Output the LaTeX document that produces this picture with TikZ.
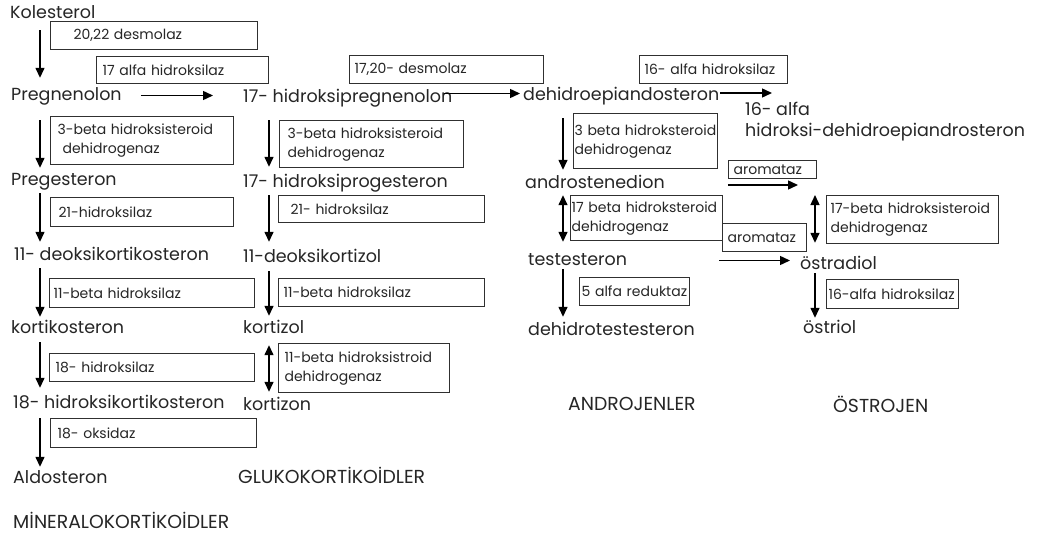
\documentclass[tikz,border=0pt]{standalone}
\usepackage{fontspec}
\setmainfont{Poppins}
\usetikzlibrary{arrows.meta}
\definecolor{ink}{HTML}{262626}
\definecolor{frame}{HTML}{303030}

\begin{document}
\begin{tikzpicture}[x=1pt, y=-1pt,
    every node/.style={text=ink},
    mol/.style={font=\fontsize{17.5}{20}\selectfont, anchor=base west,
      inner sep=0pt, text height=13pt, text depth=4pt},
    grp/.style={font=\fontsize{18.8}{21}\selectfont, anchor=base west, inner sep=0pt},
    enz/.style={draw=frame, line width=1.2pt, anchor=north west, align=left,
      inner ysep=0pt, font=\fontsize{14}{19}\selectfont},
    arr/.style={draw=black, line width=1.4pt, -{Triangle[length=10pt, width=9pt]}},
    darr/.style={draw=black, line width=1.4pt,
      {Triangle[length=10pt, width=9pt]}-{Triangle[length=10pt, width=9pt]}}]

  \useasboundingbox[fill=white] (0,0) rectangle (1047,538);

  % arrow columns
  \coordinate (colA) at (40,0);
  \coordinate (colB) at (269,0);
  \coordinate (colC) at (563,0);
  \coordinate (colD) at (815,0);
  \coordinate (estron) at (815,185);
  \coordinate (dheaend) at (772,93);

  % mineralokortikoid column
  \node[mol] (kol) at (10,18) {Kolesterol};
  \node[mol] (preg) at (11,100) {Pregnenolon};
  \node[mol] (pgest) at (11,185) {Pregesteron};
  \node[mol] (dks) at (14,260) {11- deoksikortikosteron};
  \node[mol] (ksn) at (11,333) {kortikosteron};
  \node[mol] (ohks) at (13,408) {18- hidroksikortikosteron};
  \node[mol] (aldo) at (13,483) {Aldosteron};

  % glukokortikoid column
  \node[mol] (ohpreg) at (243,102) {17- hidroksipregnenolon};
  \node[mol] (ohprog) at (243,187) {17- hidroksiprogesteron};
  \node[mol] (dkz) at (243,262) {11-deoksikortizol};
  \node[mol] (kzl) at (243,333) {kortizol};
  \node[mol] (kzn) at (243,410) {kortizon};

  % androjen / ostrojen
  \node[mol] (dhea) at (523,100) {dehidroepiandosteron};
  \node[font=\fontsize{17.5}{21}\selectfont, anchor=north west, align=left,
    inner sep=0pt] (ohdhea) at (745,102) {16- alfa\\hidroksi-dehidroepiandrosteron};
  \node[mol] (andro) at (525,188) {androstenedion};
  \node[mol] (testo) at (528,265) {testesteron};
  \node[mol] (dht) at (528,335) {dehidrotestesteron};
  \node[mol] (ostradiol) at (800,269) {östradiol};
  \node[mol] (ostriol) at (803,333) {östriol};

  % group titles
  \node[grp] (mineral) at (13,528) {MİNERALOKORTİKOİDLER};
  \node[grp] (gluko) at (238,483) {GLUKOKORTİKOİDLER};
  \node[grp] (androgrp) at (568,410) {ANDROJENLER};
  \node[grp] (ostrogrp) at (833,412) {ÖSTROJEN};

  % enzymes
  \node[enz, inner xsep=23pt, text width=161pt, minimum height=28pt] (desmo) at (50,21) {20,22 desmolaz};
  \node[enz, inner xsep=6pt, text width=160pt, minimum height=27pt] (alfa17) at (96,56) {17 alfa hidroksilaz};
  \node[enz, inner xsep=7pt, text width=169pt, minimum height=48pt] (hsdA) at (50,116) {3-beta hidroksisteroid\\\hspace*{5pt}dehidrogenaz};
  \node[enz, inner xsep=8pt, text width=167pt, minimum height=29pt] (hydA) at (50,197) {21-hidroksilaz};
  \node[enz, inner xsep=4pt, text width=197pt, minimum height=29pt] (betaA) at (49,278) {11-beta hidroksilaz};
  \node[enz, inner xsep=6pt, text width=193pt, minimum height=28pt] (hyd18) at (49,353) {18- hidroksilaz};
  \node[enz, inner xsep=7pt, text width=192pt, minimum height=29pt] (oks18) at (50,418) {18- oksidaz};

  \node[enz, inner xsep=5pt, text width=184pt, minimum height=28pt] (desmo1720) at (349,55) {17,20- desmolaz};
  \node[enz, inner xsep=8pt, text width=168pt, minimum height=47pt] (hsdB) at (279,120) {3-beta hidroksisteroid\\dehidrogenaz};
  \node[enz, inner xsep=12pt, text width=182pt, minimum height=27pt] (hydB) at (278,195) {21- hidroksilaz};
  \node[enz, inner xsep=5pt, text width=196pt, minimum height=28pt] (betaB) at (278,278) {11-beta hidroksilaz};
  \node[enz, inner xsep=6pt, text width=159pt, minimum height=49pt] (hsd11) at (278,343) {11-beta hidroksistroid\\dehidrogenaz};

  \node[enz, inner xsep=5pt, text width=138pt, minimum height=28pt] (hyd16A) at (639,55) {16- alfa hidroksilaz};
  \node[enz, inner xsep=1pt, text width=142pt, minimum height=55pt] (hsdC) at (573,113) {3 beta hidroksteroid\\dehidrogenaz};
  \node[enz, inner xsep=5pt, text width=78pt, minimum height=18pt] (aromA) at (728,160) {aromataz};
  \node[enz, inner xsep=1pt, text width=150pt, minimum height=45pt] (hsdD) at (570,195) {17 beta hidroksteroid\\dehidrogenaz};
  \node[enz, inner xsep=5pt, text width=74pt, minimum height=28pt] (aromB) at (722,223) {aromataz};
  \node[enz, inner xsep=4pt, text width=164pt, minimum height=48pt] (hsdE) at (826,195) {17-beta hidroksisteroid\\dehidrogenaz};
  \node[enz, inner xsep=2pt, text width=106pt, minimum height=28pt] (red5) at (579,277) {5 alfa reduktaz};
  \node[enz, inner xsep=2pt, text width=128pt, minimum height=29pt] (hyd16B) at (826,279) {16-alfa hidroksilaz};

  % vertical steps
  \draw[arr, shorten <=8pt, shorten >=9pt] (kol.south -| colA) -- (preg.north -| colA);
  \draw[arr, shorten <=16pt, shorten >=4pt] (preg.south -| colA) -- (pgest.north -| colA);
  \draw[arr, shorten <=4pt, shorten >=5pt] (pgest.south -| colA) -- (dks.north -| colA);
  \draw[arr, shorten <=4pt, shorten >=3pt] (dks.south -| colA) -- (ksn.north -| colA);
  \draw[arr, shorten <=5pt, shorten >=7pt] (ksn.south -| colA) -- (ohks.north -| colA);
  \draw[arr, shorten <=6pt, shorten >=3pt] (ohks.south -| colA) -- (aldo.north -| colA);

  \draw[arr, shorten <=14pt, shorten >=7pt] (ohpreg.south -| colB) -- (ohprog.north -| colB);
  \draw[arr, shorten <=4pt, shorten >=7pt] (ohprog.south -| colB) -- (dkz.north -| colB);
  \draw[arr, shorten <=5pt, shorten >=4pt] (dkz.south -| colB) -- (kzl.north -| colB);
  \draw[darr, shorten <=8pt, shorten >=5pt] (kzl.south -| colB) -- (kzn.north -| colB);

  \draw[arr, shorten <=14pt, shorten >=5pt] (dhea.south -| colC) -- (andro.north -| colC);
  \draw[darr, shorten <=3pt, shorten >=10pt] (andro.south -| colC) -- (testo.north -| colC);
  \draw[arr, shorten >=5pt] (testo.south -| colC) -- (dht.north -| colC);

  \draw[darr, shorten <=10pt, shorten >=13pt] (estron) -- (ostradiol.north -| colD);
  \draw[arr, shorten >=2pt] (ostradiol.south -| colD) -- (ostriol.north -| colD);

  % horizontal steps
  \draw[arr, shorten <=19pt, shorten >=30pt] (preg.east) -- (preg.east -| ohpreg.west);
  \draw[arr, shorten <=-9pt, shorten >=3pt] ([yshift=4pt]ohpreg.east) -- ([yshift=4pt]ohpreg.east -| dhea.west);
  \draw[arr, shorten <=1pt] (dhea.east |- dheaend) -- (dheaend);
  \draw[arr, shorten <=63pt, shorten >=17pt] (andro.east |- estron) -- (estron);
  \draw[arr, shorten <=92pt, shorten >=10pt] (testo.east) -- (testo.east -| ostradiol.west);
\end{tikzpicture}
\end{document}
